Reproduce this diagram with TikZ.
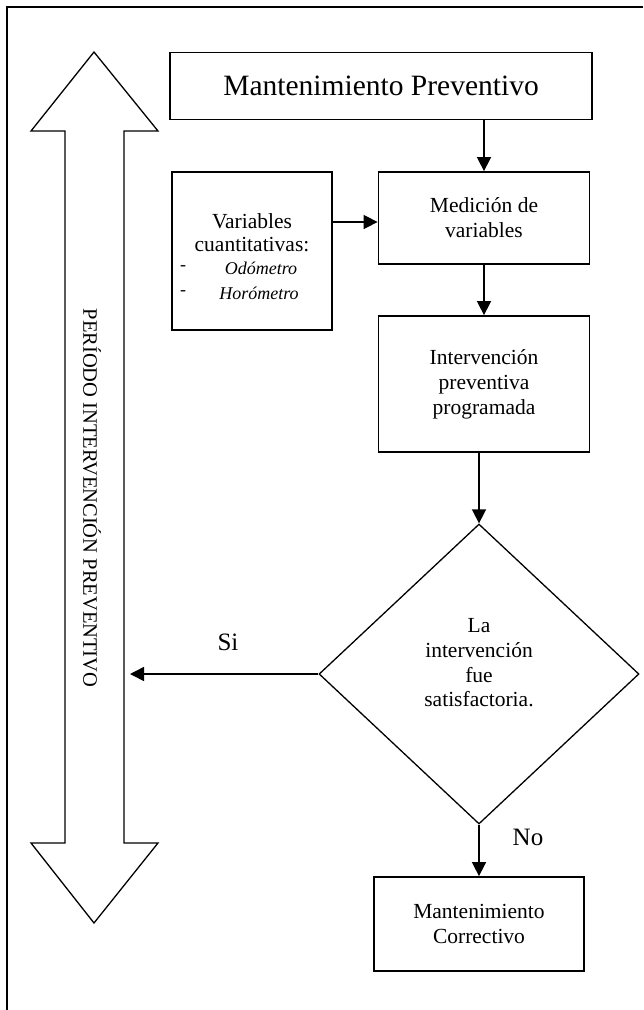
\documentclass[tikz,border=0pt]{standalone}
\usepackage{fontspec}
\setmainfont{Liberation Serif}
\usetikzlibrary{shapes.geometric,arrows.meta}
\begin{document}
\begin{tikzpicture}[x=1pt,y=-1pt,
  box/.style={draw,line width=1.8pt,inner sep=0pt,align=center,
              font=\fontsize{21.5}{25}\selectfont},
  arr/.style={line width=1.6pt,-{Triangle[length=14pt,width=14pt]}},
  lbl/.style={font=\fontsize{25}{28}\selectfont,inner sep=0pt},
  thin/.style={line width=1.3pt,line join=miter},
  plain/.style={inner sep=0pt}]
\useasboundingbox (0,0) rectangle (643,1010);

% outer frame (top and left edges)
\draw[line width=1.5pt] (643,7) -- (7,7) -- (7,1010);

% double-headed period arrow
\draw[thin] (94,52) -- (158,131) -- (124,131) -- (124,843) -- (158,843)
  -- (94,923) -- (31,843) -- (65,843) -- (65,131) -- (31,131) -- cycle;
\node[plain,rotate=-90,font=\fontsize{20.5}{24}\selectfont] (period) at (92,498)
  {PERÍODO INTERVENCIÓN PREVENTIVO};

% flow boxes
\node[box,minimum width=422pt,minimum height=67pt,
      font=\fontsize{29.5}{34}\selectfont] (top) at (381,86) {Mantenimiento Preventivo};
\node[box,minimum width=211pt,minimum height=92pt] (med) at (484,218) {Medición de\\variables};
\node[box,minimum width=211pt,minimum height=136pt] (int) at (484,384)
  {Intervención\\preventiva\\programada};
\node[draw,diamond,thin,minimum width=320pt,minimum height=300pt,inner sep=0pt]
  (dec) at (479,674) {};
\node[plain,align=center,font=\fontsize{21.5}{24.7}\selectfont] (dectxt) at (479,663)
  {La\\intervención\\fue\\satisfactoria.};
\node[box,minimum width=210pt,minimum height=94pt] (corr) at (479,924)
  {Mantenimiento\\Correctivo};

% input variables box
\node[box,minimum width=160pt,minimum height=158pt] (var) at (252,251) {};
\node[plain,align=center,font=\fontsize{21.5}{23}\selectfont] (vt) at (252,233)
  {Variables\\cuantitativas:};
\node[plain,font=\fontsize{18}{20}\selectfont] (d1) at (183,268) {-};
\node[plain,font=\fontsize{18}{20}\selectfont\itshape] (o1) at (261,268) {Odómetro};
\node[plain,font=\fontsize{18}{20}\selectfont] (d2) at (183,293) {-};
\node[plain,font=\fontsize{18}{20}\selectfont\itshape] (o2) at (259,293) {Horómetro};

% connectors
\draw[arr] (top.south -| med.north) -- (med.north);
\draw[arr] (med.south) -- (int.north);
\draw[arr] (int.south -| dec.north) -- (dec.north);
\draw[arr] (dec.south) -- (corr.north);
\draw[arr] ([yshift=29pt]var.east) -- ([yshift=29pt]var.east -| med.west);
\coordinate (siend) at (130,674);
\draw[arr] (dec.west) -- (siend);

% branch labels
\node[lbl] (si) at (228,642) {Si};
\node[lbl] (no) at (528,837) {No};
\end{tikzpicture}
\end{document}
